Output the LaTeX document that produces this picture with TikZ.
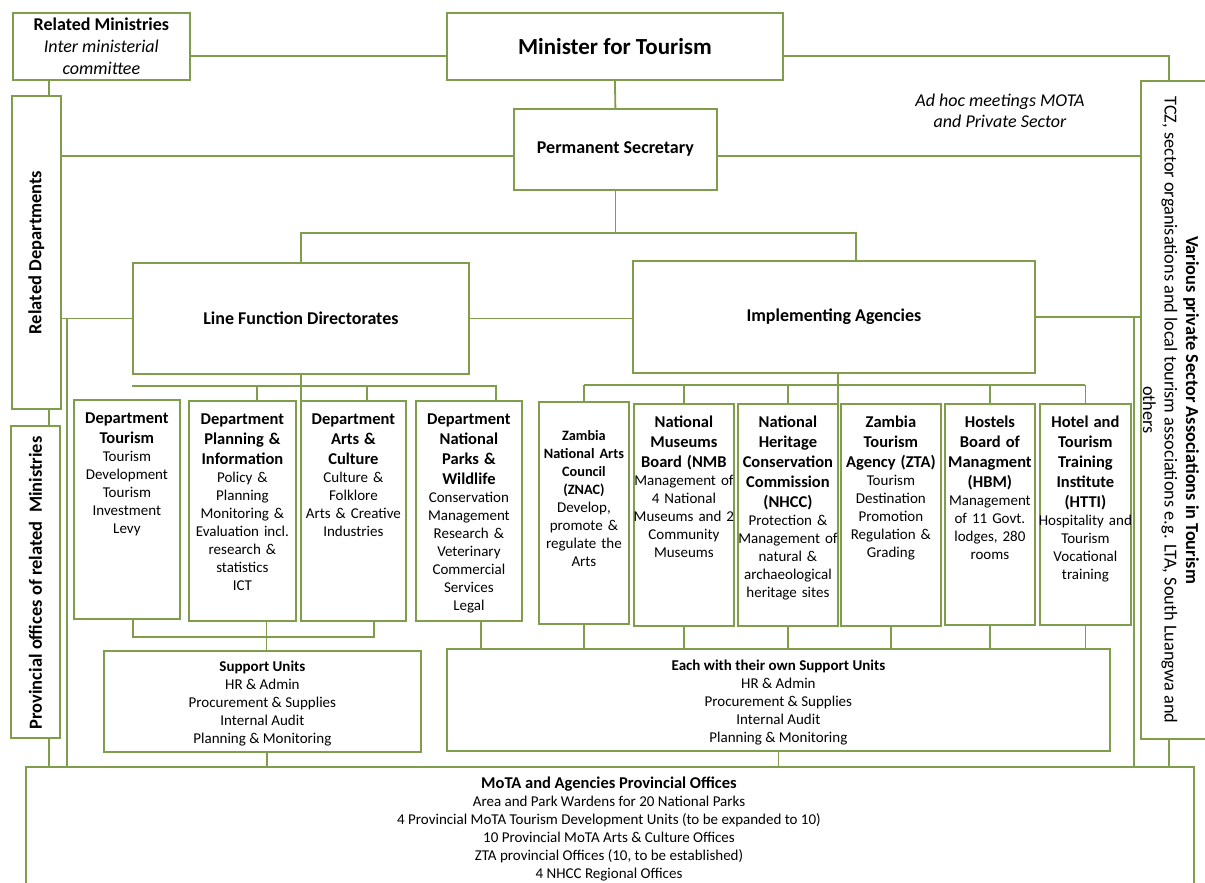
\documentclass[tikz,border=0pt]{standalone}
\usepackage{fontspec}
\setmainfont{Carlito}
\usepackage{tikz}
\usetikzlibrary{positioning,calc,backgrounds}
\definecolor{leaf}{HTML}{7F9D4B}
\newcommand{\hd}[1]{{\fontsize{16.5}{20}\selectfont\bfseries #1\par}}

\begin{document}
\begin{tikzpicture}[x=1pt,y=-1pt,
    frame/.style={draw=leaf,line width=1.8pt,fill=white,inner sep=0pt,anchor=north west,align=center},
    conn/.style={draw=leaf,line width=1.8pt},
    body/.style={text width=140pt,align=center,anchor=north,inner sep=0pt,
                 font=\fontsize{15}{18}\selectfont}]
  \useasboundingbox (0,0) rectangle (1205,883);

  % top row
  \node[frame,minimum width=177pt,minimum height=67pt,font=\fontsize{18}{22}\selectfont] (relmin) at (12,12)
    {\textbf{Related Ministries}\\\textit{Inter ministerial}\\\textit{committee}};
  \node[frame,minimum width=336pt,minimum height=67pt,font=\fontsize{23}{26}\selectfont\bfseries] (minister) at (446,12)
    {Minister for Tourism};
  \node[frame,minimum width=203pt,minimum height=81pt,font=\fontsize{18}{22}\selectfont\bfseries] (ps) at (513,108)
    {Permanent Secretary};
  \node[font=\fontsize{18}{21}\selectfont\itshape,align=center] (adhoc) at (1000,111)
    {Ad hoc meetings MOTA\\and Private Sector};

  % side boxes
  \node[frame,minimum width=49pt,minimum height=313pt] (reldep) at (11,95) {};
  \node[rotate=90,font=\fontsize{18.5}{22}\selectfont\bfseries] (reldepT) at (reldep) {Related Departments};
  \node[frame,minimum width=49pt,minimum height=312pt] (prov) at (10,425) {};
  \node[rotate=90,font=\fontsize{18.5}{22}\selectfont\bfseries] (provT) at ([yshift=-1pt]prov.center) {Provincial offices of related~~Ministries};
  \node[frame,minimum width=80pt,minimum height=658pt] (various) at (1140,80) {};
  \node[rotate=-90,align=center,font=\fontsize{18.3}{21.5}\selectfont] (variousT) at (1171,410)
    {\textbf{Various private Sector Associations in Tourism}\\
     TCZ, sector organisations and local tourism associations e.g. LTA, South Luangwa and\\others};

  % directorates and agencies
  \node[frame,minimum width=336pt,minimum height=111pt,font=\fontsize{18}{22}\selectfont\bfseries] (lfd) at (132,262)
    {Line Function Directorates};
  \node[frame,minimum width=402pt,minimum height=112pt,font=\fontsize{18}{22}\selectfont\bfseries] (ia) at (632,260)
    {Implementing Agencies};

  % departments
  \node[frame,minimum width=106pt,minimum height=219pt] (dtour) at (73,399) {};
  \node[frame,minimum width=107pt,minimum height=220pt] (dplan) at (188,400) {};
  \node[frame,minimum width=105pt,minimum height=220pt] (darts) at (300,400) {};
  \node[frame,minimum width=106pt,minimum height=220pt] (dparks) at (415,400) {};
  \node[body] (dtourT) at ([yshift=-13.5pt]dtour.north)
    {\hd{Department\\Tourism}Tourism\\Development\\Tourism\\Investment\\Levy};
  \node[body] (dplanT) at ([yshift=-13.5pt]dplan.north)
    {\hd{Department\\Planning \&\\Information}Policy \&\\Planning\\Monitoring \&\\Evaluation incl.\\research \&\\statistics\\ICT};
  \node[body] (dartsT) at ([yshift=-13.5pt]darts.north)
    {\hd{Department\\Arts \&\\Culture}Culture \&\\Folklore\\Arts \& Creative\\Industries};
  \node[body] (dparksT) at ([yshift=-13.5pt]dparks.north)
    {\hd{Department\\National\\Parks \&\\Wildlife}Conservation\\Management\\Research \&\\Veterinary\\Commercial\\Services\\Legal};

  % agencies
  \node[frame,minimum width=90pt,minimum height=222pt] (znac) at (538,401) {};
  \node[frame,minimum width=100pt,minimum height=222pt] (nmb) at (633,403) {};
  \node[frame,minimum width=100pt,minimum height=222pt] (nhcc) at (737,403) {};
  \node[frame,minimum width=100pt,minimum height=222pt] (zta) at (840,403) {};
  \node[frame,minimum width=90pt,minimum height=221pt] (hbm) at (944,403) {};
  \node[frame,minimum width=91pt,minimum height=221pt] (htti) at (1039,403) {};
  \node[body] (znacT) at ([yshift=-29.5pt]znac.north)
    {{\fontsize{14.3}{18}\selectfont\bfseries Zambia\\National Arts\\Council\\(ZNAC)\par}Develop,\\promote \&\\regulate the\\Arts};
  \node[body] (nmbT) at ([yshift=-12.5pt]nmb.north)
    {\hd{National\\Museums\\Board (NMB}Management of\\4 National\\Museums and 2\\Community\\Museums};
  \node[body] (nhccT) at ([yshift=-12.5pt]nhcc.north)
    {\hd{National\\Heritage\\Conservation\\Commission\\(NHCC)}Protection \&\\Management of\\natural \&\\archaeological\\heritage sites};
  \node[body] (ztaT) at ([yshift=-12.5pt]zta.north)
    {\hd{Zambia\\Tourism\\Agency (ZTA)}Tourism\\Destination\\Promotion\\Regulation \&\\Grading};
  \node[body] (hbmT) at ([yshift=-12.5pt]hbm.north)
    {\hd{Hostels\\Board of\\Managment\\(HBM)}Management\\of 11 Govt.\\lodges, 280\\rooms};
  \node[body] (httiT) at ([yshift=-12.5pt]htti.north)
    {\hd{Hotel and\\Tourism\\Training\\Institute\\(HTTI)}Hospitality and\\Tourism\\Vocational\\training};

  % support units
  \node[frame,minimum width=317pt,minimum height=101pt] (sup) at (103,650) {};
  \node[align=center,font=\fontsize{15}{18}\selectfont] (supT) at ([yshift=-2pt]sup.center)
    {\textbf{Support Units}\\HR \& Admin\\Procurement \& Supplies\\Internal Audit\\Planning \& Monitoring};
  \node[frame,minimum width=663pt,minimum height=102pt] (each) at (446,648) {};
  \node[align=center,font=\fontsize{15}{18}\selectfont] (eachT) at ([yshift=-2.5pt]each.center)
    {\textbf{Each with their own Support Units}\\HR \& Admin\\Procurement \& Supplies\\Internal Audit\\Planning \& Monitoring};

  % provincial offices
  \node[frame,minimum width=1168pt,minimum height=130pt] (mota) at (25,766) {};
  \node[align=center,font=\fontsize{15}{18}\selectfont] (motaT) at (609,829)
    {{\fontsize{16.5}{18}\selectfont\bfseries MoTA and Agencies Provincial Offices}\\
     Area and Park Wardens for 20 National Parks\\
     4 Provincial MoTA Tourism Development Units (to be expanded to 10)\\
     10 Provincial MoTA Arts \& Culture Offices\\
     ZTA provincial Offices (10, to be established)\\
     4 NHCC Regional Offices};

  \begin{scope}[on background layer]
    % top links
    \draw[conn] ([yshift=-9.5pt]relmin.east) -- ([yshift=-9.5pt]minister.west);
    \draw[conn] ([yshift=-9.5pt]minister.east) -| ([xshift=-12pt]various.north);
    \draw[conn] (minister.south) -- (ps.north);
    \draw[conn] ([xshift=12.5pt]reldep.north) -- ([xshift=12.5pt]reldep.north |- relmin.south);
    \draw[conn] ([xshift=12.5pt]reldep.south) -- ([xshift=12.5pt]reldep.south |- prov.north);
    \draw[conn] ([xshift=13.5pt]prov.south) -- ([xshift=13.5pt]prov.south |- mota.north);
    \draw[conn] ([yshift=-6.5pt]ps.west) -- ([yshift=-6.5pt]ps.west -| reldep.east);
    \draw[conn] ([yshift=-6.5pt]ps.east) -- ([yshift=-6.5pt]ps.east -| various.west);
    \coordinate (split) at ($(ps.south)+(0,42)$);
    \draw[conn] (ps.south) -- (split);
    \draw[conn] (lfd.north) |- (split) -| ([xshift=22pt]ia.north);
    % middle links
    \draw[conn] (reldep.east |- lfd.west) -- (lfd.west);
    \draw[conn] (lfd.east) -- (lfd.east -| ia.west);
    \draw[conn] (ia.east) -- (ia.east -| various.west);
    \coordinate (lrail) at (67,0);
    \coordinate (rrail) at (1134,0);
    \draw[conn] (lfd.west -| lrail) -- (lrail |- mota.north);
    \draw[conn] (ia.east -| rrail) -- ([yshift=-2pt]rrail |- mota.north);
    \draw[conn] ([xshift=-12pt]various.south) -- ([xshift=-12pt]various.south |- mota.north);
    % departments
    \coordinate (dbus) at (0,386);
    \draw[conn] (lfd.south) -- (lfd.south |- dplan.north);
    \draw[conn] (lfd.south west |- dbus) -| ([xshift=27pt]dparks.north);
    \draw[conn] ([xshift=14.5pt]dplan.north) -- ([xshift=14.5pt]dplan.north |- dbus);
    \draw[conn] ([xshift=13.5pt]darts.north) -- ([xshift=13.5pt]darts.north |- dbus);
    \draw[conn] ([xshift=6pt]dtour.south) -- ++(0,17) -| ([xshift=20.5pt]darts.south);
    \draw[conn] ([xshift=4pt]sup.north) -- ([xshift=4pt]sup.north |- dplan.south);
    \draw[conn] ([xshift=12pt]dparks.south) -- ([xshift=12pt]dparks.south |- each.north);
    \draw[conn] ([xshift=4.5pt]sup.south) -- ([xshift=4.5pt]sup.south |- mota.north);
    \draw[conn] (each.south) -- (each.south |- mota.north);
    % agencies
    \coordinate (abus) at (0,385);
    \draw[conn] ([xshift=4pt]ia.south) -- ([xshift=4pt]ia.south |- nmb.north);
    \draw[conn] (znac.north |- abus) -- (htti.north |- abus);
    \foreach \ag in {znac,nmb,nhcc,hbm,htti}
      \draw[conn] (\ag.north) -- (\ag.north |- abus);
    \foreach \ag in {znac,nmb,nhcc,zta,hbm,htti}
      \draw[conn] (\ag.south) -- (\ag.south |- each.north);
  \end{scope}
\end{tikzpicture}
\end{document}
